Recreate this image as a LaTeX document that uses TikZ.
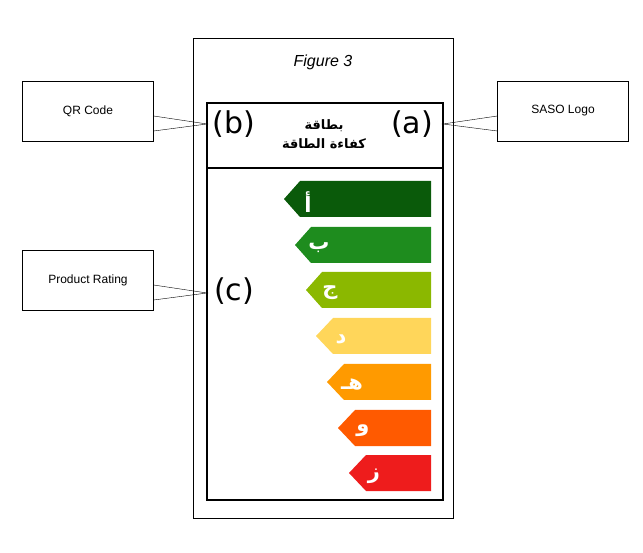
\documentclass[tikz,border=0pt]{standalone}
\usepackage{fontspec}
\setmainfont{Liberation Sans}
\newfontfamily\arab[Script=Arabic]{DejaVu Sans}
\newfontfamily\djv{DejaVu Sans}
\TeXXeTstate=1
\begin{document}
\begin{tikzpicture}[x=1pt,y=-1pt,
  call/.style={draw=black,thin,minimum width=131pt,minimum height=60pt,font=\fontsize{12}{14}\selectfont},
  lbl/.style={font=\djv\fontsize{30}{30}\selectfont},
  lt/.style={text=white,font=\arab\bfseries\fontsize{21}{21}\selectfont}]
\useasboundingbox (0,0) rectangle (643,553);
\draw (193,38) rectangle (453,518);
\node (fig) at (323,62) {\fontsize{16}{16}\selectfont\itshape Figure 3};
\draw[line width=1.6pt] (207,103) rectangle (443,500);
\draw[line width=1.6pt] (207,168) -- (443,168);
\node[lbl] (b) at (234,124) {(b)};
\node[lbl] (a) at (412,124) {(a)};
\node[lbl] (c) at (234,291) {(c)};
\node[align=center,font=\arab\bfseries\fontsize{13}{19}\selectfont] (t) at (324,134) {\beginR بطاقة\endR\\\beginR كفاءة الطاقة\endR};
\node[call] (qr) at (88,111) {QR Code};
\node[call] (saso) at (563,111) {SASO Logo};
\node[call] (pr) at (88,280) {Product Rating};
\coordinate (pb) at (207,124);
\coordinate (pa) at (443,124);
\coordinate (pc) at (207,293);
\draw ([yshift=-5pt]qr.east) -- (pb) -- ([yshift=-20pt]qr.east);
\draw ([yshift=-5pt]saso.west) -- (pa) -- ([yshift=-20pt]saso.west);
\draw ([yshift=-5pt]pr.east) -- (pc) -- ([yshift=-20pt]pr.east);
\foreach \i/\y/\bl/\tp/\col/\l in {1/181/300/284/0A5A0A/أ,2/227/311/295/1E8C1E/ب,3/272/322/306/8BB800/ج,4/318/333/316/FFD65A/د,5/364/344/327/FF9A00/هـ,6/410/355/338/FF5A00/و,7/455/366/349/EE1C1C/ز}{
  \definecolor{c\i}{HTML}{\col}
  \fill[c\i] (\tp,\y+18) -- (\bl,\y) -- (431,\y) -- (431,\y+36) -- (\bl,\y+36) -- cycle;
  \node[lt] (l\i) at (\bl+8,\y+21) {\l};
}
\end{tikzpicture}
\end{document}
